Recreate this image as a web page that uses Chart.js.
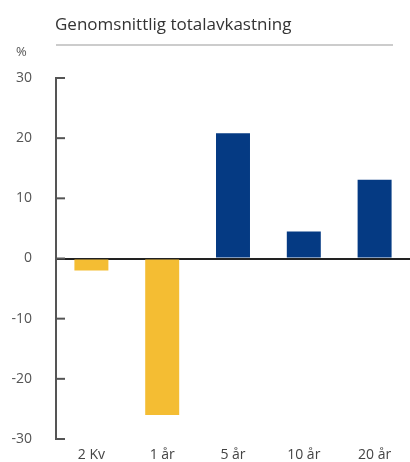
<!DOCTYPE html>
<html>
<head>
<meta charset="utf-8">
<script src="https://cdn.jsdelivr.net/npm/chart.js@4"></script>
<style>
  html, body { margin: 0; padding: 0; background: #fff; overflow: hidden; }
  canvas { display: block; }
</style>
</head>
<body>
<canvas id="chart" width="410" height="462"></canvas>
<script>
const categories = ['2 Kv', '1 år', '5 år', '10 år', '20 år'];
const returns = [-2.0, -26.0, 20.8, 4.5, 13.1];
const yTicks = [-30, -20, -10, 0, 10, 20, 30];

const YELLOW = '#f4bd33';
const BLUE = '#053a83';
const FONT = '"Open Sans", "Noto Sans", sans-serif';

// title, rule under it and the unit label above the axis
const headerPlugin = {
  id: 'header',
  afterDraw(chart){
    const { ctx, scales: { y } } = chart;
    ctx.save();
    ctx.fillStyle = '#333';
    ctx.font = `17px ${FONT}`;
    ctx.textBaseline = 'alphabetic';
    ctx.fillText('Genomsnittlig totalavkastning', 55, 30);
    ctx.strokeStyle = '#9a9a9a';
    ctx.lineWidth = 1.2;
    ctx.beginPath();
    ctx.moveTo(56, 45);
    ctx.lineTo(393, 45);
    ctx.stroke();
    ctx.fillStyle = '#555';
    ctx.font = `13px ${FONT}`;
    ctx.textBaseline = 'middle';
    ctx.fillText('%', 16, 52);

    // short tick marks pointing into the plot
    ctx.strokeStyle = '#555';
    ctx.lineWidth = 2;
    y.ticks.forEach(t => {
      const py = y.getPixelForValue(t.value);
      ctx.beginPath();
      ctx.moveTo(y.right - 1, py);
      ctx.lineTo(y.right + 9, py);
      ctx.stroke();
    });
    ctx.restore();
  }
};

new Chart(document.getElementById('chart'), {
  type: 'bar',
  data: {
    labels: categories,
    datasets: [{
      data: returns,
      backgroundColor: returns.map((v, i) => i < 2 ? YELLOW : BLUE),
      borderWidth: 0,
      barPercentage: 0.48,
      categoryPercentage: 1
    }]
  },
  options: {
    responsive: false,
    animation: false,
    layout: { padding: { top: 78, right: 0, bottom: 0, left: 0 } },
    plugins: { legend: { display: false }, tooltip: { enabled: false } },
    scales: {
      x: {
        grid: { display: false, drawTicks: false },
        border: { display: false },
        ticks: { color: '#444', font: { family: FONT, size: 14 }, padding: 8 },
        afterFit(scale){
          scale.height = 23;
          scale.paddingLeft = 0;
          scale.paddingRight = 0;
        }
      },
      y: {
        min: -30,
        max: 30,
        afterBuildTicks(scale){ scale.ticks = yTicks.map(v => ({ value: v })); },
        grid: {
          drawTicks: false,
          lineWidth: ctx => ctx.tick && ctx.tick.value === 0 ? 2 : 0,
          color: ctx => ctx.tick && ctx.tick.value === 0 ? '#222' : 'rgba(0,0,0,0)'
        },
        border: { display: true, color: '#555', width: 2 },
        ticks: { color: '#555', font: { family: FONT, size: 14 }, padding: 24 },
        afterFit(scale){
          scale.width = 56;
          scale.paddingTop = 0;
          scale.paddingBottom = 0;
        }
      }
    }
  },
  plugins: [headerPlugin]
});
</script>
</body>
</html>
